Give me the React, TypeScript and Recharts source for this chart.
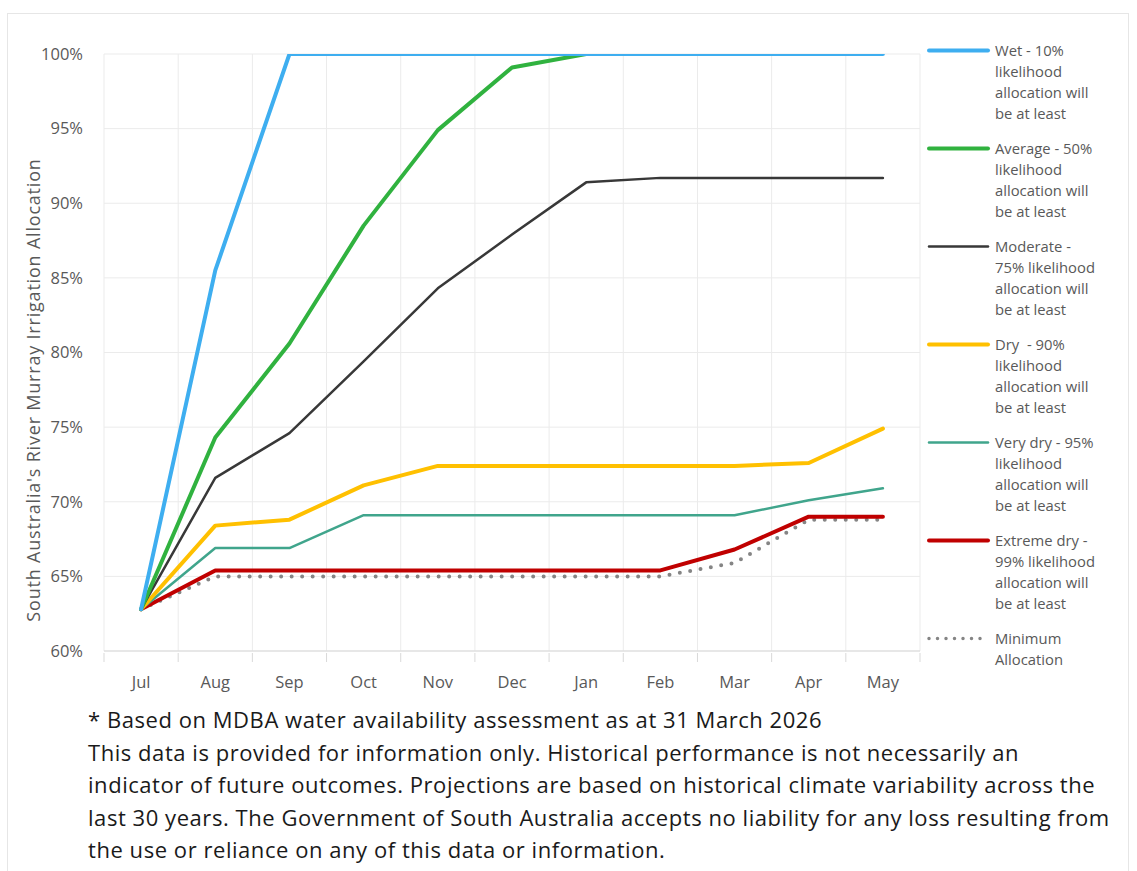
import { LineChart, Line, XAxis, YAxis, CartesianGrid } from "recharts";

const MONTHS = ["Jul", "Aug", "Sep", "Oct", "Nov", "Dec", "Jan", "Feb", "Mar", "Apr", "May"];

const WET = [62.8, 85.5, 100, 100, 100, 100, 100, 100, 100, 100, 100];
const AVERAGE = [62.8, 74.3, 80.6, 88.5, 94.9, 99.1, 100, 100, 100, null, null];
const MODERATE = [62.8, 71.6, 74.6, 79.4, 84.3, 87.9, 91.4, 91.7, 91.7, 91.7, 91.7];
const DRY = [62.8, 68.4, 68.8, 71.1, 72.4, 72.4, 72.4, 72.4, 72.4, 72.6, 74.9];
const VERY_DRY = [62.8, 66.9, 66.9, 69.1, 69.1, 69.1, 69.1, 69.1, 69.1, 70.1, 70.9];
const EXTREME_DRY = [62.8, 65.4, 65.4, 65.4, 65.4, 65.4, 65.4, 65.4, 66.8, 69.0, 69.0];
const MINIMUM = [62.8, 65.0, 65.0, 65.0, 65.0, 65.0, 65.0, 65.0, 65.9, 68.8, 68.8];

const Y_TICKS = [60, 65, 70, 75, 80, 85, 90, 95, 100];

const data = MONTHS.map((month, i) => ({
  month,
  wet: WET[i],
  average: AVERAGE[i],
  moderate: MODERATE[i],
  dry: DRY[i],
  veryDry: VERY_DRY[i],
  extremeDry: EXTREME_DRY[i],
  minimum: MINIMUM[i]
}));

const SERIES = [
  { key: "wet", color: "#3eaef0", width: 4, dash: undefined, lines: ["Wet - 10%", "likelihood", "allocation will", "be at least"] },
  { key: "average", color: "#30b23f", width: 4, dash: undefined, lines: ["Average - 50%", "likelihood", "allocation will", "be at least"] },
  { key: "moderate", color: "#383838", width: 2.5, dash: undefined, lines: ["Moderate -", "75% likelihood", "allocation will", "be at least"] },
  { key: "dry", color: "#ffc000", width: 4, dash: undefined, lines: ["Dry\u00a0 - 90%", "likelihood", "allocation will", "be at least"] },
  { key: "veryDry", color: "#40a58c", width: 2.5, dash: undefined, lines: ["Very dry - 95%", "likelihood", "allocation will", "be at least"] },
  { key: "extremeDry", color: "#c00000", width: 4, dash: undefined, lines: ["Extreme dry -", "99% likelihood", "allocation will", "be at least"] },
  { key: "minimum", color: "#858585", width: 4, dash: "0 10.5", lines: ["Minimum", "Allocation"] }
];

const NOTES = [
  "* Based on MDBA water availability assessment as at 31 March 2026",
  "This data is provided for information only. Historical performance is not necessarily an",
  "indicator of future outcomes. Projections are based on historical climate variability across the",
  "last 30 years. The Government of South Australia accepts no liability for any loss resulting from",
  "the use or reliance on any of this data or information."
];

const FONT = "'Open Sans', 'Noto Sans', sans-serif";

const MonthTick = (props: any) => {
  const { x, y, payload, index, width } = props;
  const band = (width || 816) / MONTHS.length;
  return (
    <g>
      <line x1={x - band / 2} x2={x - band / 2} y1={y} y2={y + 9} stroke="#d9d9d9" />
      {index === MONTHS.length - 1 && (
        <line x1={x + band / 2} x2={x + band / 2} y1={y} y2={y + 9} stroke="#d9d9d9" />
      )}
      <text x={x} y={y + 35} textAnchor="middle" fill="#595959" fontSize={16.5} fontFamily={FONT}>
        {payload.value}
      </text>
    </g>
  );
};

const LegendBox = () => (
  <div style={{ fontFamily: FONT, fontSize: 14.8, color: "#595959" }}>
    {SERIES.map((s) => (
      <div key={s.key} style={{ display: "flex", alignItems: "flex-start", marginBottom: 14 }}>
        <svg width={68} height={21} style={{ flex: "none" }}>
          <line
            x1={2}
            x2={61}
            y1={10.5}
            y2={10.5}
            stroke={s.color}
            strokeWidth={s.dash ? 3.5 : s.width}
            strokeDasharray={s.dash ? "0 8.5" : undefined}
            strokeLinecap="round"
          />
        </svg>
        <div style={{ lineHeight: "21px", whiteSpace: "nowrap" }}>
          {s.lines.map((l, i) => (
            <div key={i}>{l}</div>
          ))}
        </div>
      </div>
    ))}
  </div>
);

export default function App() {
  return (
    <div
      style={{
        position: "absolute",
        left: 0,
        top: 0,
        width: 1137,
        height: 871,
        background: "#fff",
        overflow: "hidden"
      }}
    >
      <div
        style={{
          position: "absolute",
          left: 7,
          top: 13,
          width: 1122,
          height: 900,
          border: "1px solid #e6e6e6",
          boxSizing: "border-box"
        }}
      />
      <div
        style={{
          position: "absolute",
          left: 33,
          top: 390,
          transform: "translate(-50%, -50%) rotate(-90deg)",
          whiteSpace: "nowrap",
          fontFamily: FONT,
          fontSize: 18,
          letterSpacing: 0.8,
          color: "#595959"
        }}
      >
        South Australia's River Murray Irrigation Allocation
      </div>
      <div style={{ position: "absolute", left: 0, top: 0 }}>
        <LineChart
          width={1137}
          height={700}
          data={data}
          margin={{ top: 54, right: 217, bottom: 0, left: 4 }}
        >
          <CartesianGrid
            stroke="#ebebeb"
            verticalCoordinatesGenerator={({ offset }: any) =>
              Array.from({ length: MONTHS.length + 1 }, (_, i) => offset.left + (i * offset.width) / MONTHS.length)
            }
          />
          <XAxis
            dataKey="month"
            scale="band"
            stroke="#d9d9d9"
            tickLine={false}
            tickSize={0}
            tick={<MonthTick />}
            interval={0}
            height={49}
          />
          <YAxis
            domain={[60, 100]}
            ticks={Y_TICKS}
            tickFormatter={(v: number) => `${v}%`}
            axisLine={false}
            tickLine={false}
            tickSize={0}
            tickMargin={21}
            width={100}
            tick={{ fill: "#595959", fontSize: 16.5, fontFamily: FONT }}
            allowDataOverflow
          />
          {SERIES.map((s) => (
            <Line
              key={s.key}
              dataKey={s.key}
              name={s.lines.join(" ")}
              stroke={s.color}
              strokeWidth={s.width}
              strokeDasharray={s.dash}
              strokeLinecap="round"
              strokeLinejoin="round"
              dot={false}
              activeDot={false}
              isAnimationActive={false}
            />
          )).reverse()}
        </LineChart>
      </div>
      <div style={{ position: "absolute", left: 927, top: 40 }}>
        <LegendBox />
      </div>
      <div
        style={{
          position: "absolute",
          left: 88,
          top: 703,
          fontFamily: FONT,
          fontSize: 22,
          letterSpacing: 0.55,
          lineHeight: "32.5px",
          color: "#1a1a1a",
          whiteSpace: "nowrap"
        }}
      >
        {NOTES.map((n, i) => (
          <div key={i}>{n}</div>
        ))}
      </div>
    </div>
  );
}
